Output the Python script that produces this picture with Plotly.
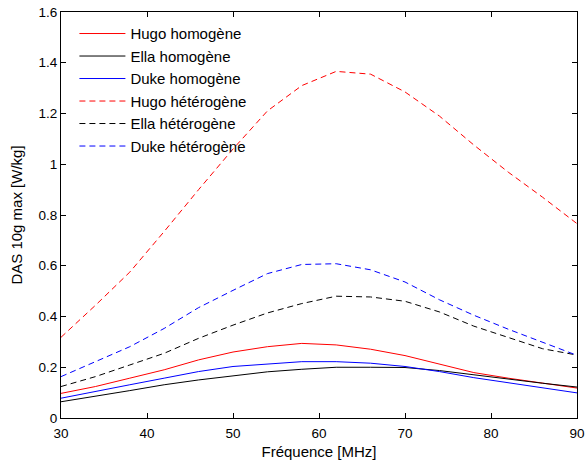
import plotly.graph_objects as go

freq = [30, 34, 38, 42, 46, 50, 54, 58, 62, 66, 70, 74, 78, 82, 86, 90]

hugo_hom = [0.097, 0.124, 0.157, 0.190, 0.229, 0.260, 0.281, 0.294, 0.288, 0.271, 0.246, 0.212, 0.179, 0.157, 0.137, 0.118]
ella_hom = [0.064, 0.085, 0.108, 0.131, 0.150, 0.166, 0.182, 0.192, 0.200, 0.200, 0.199, 0.187, 0.170, 0.153, 0.137, 0.122]
duke_hom = [0.078, 0.103, 0.131, 0.157, 0.183, 0.203, 0.213, 0.222, 0.222, 0.216, 0.203, 0.183, 0.159, 0.140, 0.120, 0.099]
hugo_het = [0.318, 0.444, 0.575, 0.735, 0.900, 1.060, 1.210, 1.310, 1.366, 1.355, 1.285, 1.190, 1.076, 0.969, 0.870, 0.766]
ella_het = [0.124, 0.163, 0.209, 0.255, 0.314, 0.366, 0.414, 0.451, 0.480, 0.477, 0.460, 0.418, 0.362, 0.318, 0.273, 0.248]
duke_het = [0.163, 0.222, 0.281, 0.353, 0.435, 0.503, 0.569, 0.605, 0.608, 0.584, 0.536, 0.466, 0.405, 0.350, 0.298, 0.247]

names = ["Hugo homogène", "Ella homogène", "Duke homogène",
         "Hugo hétérogène", "Ella hétérogène", "Duke hétérogène"]
series = [hugo_hom, ella_hom, duke_hom, hugo_het, ella_het, duke_het]
colors = ["#ff0000", "#000000", "#0000ff", "#ff0000", "#000000", "#0000ff"]
dashes = ["solid", "solid", "solid", "6px,4px", "6px,4px", "6px,4px"]

x_ticks = [30, 40, 50, 60, 70, 80, 90]
y_ticks = [0, 0.2, 0.4, 0.6, 0.8, 1, 1.2, 1.4, 1.6]
y_ticklabels = ["0", "0.2", "0.4", "0.6", "0.8", "1", "1.2", "1.4", "1.6"]

fig = go.Figure()
for i, (nm, ys, c, d) in enumerate(zip(names, series, colors, dashes)):
    fig.add_trace(go.Scatter(x=freq, y=ys, mode="lines", name=nm,
                             legendgroup=f"g{i}",
                             line=dict(color=c, width=1, dash=d)))

font = "Liberation Sans, Arial, sans-serif"
fig.update_layout(
    width=586, height=463,
    margin=dict(l=61, r=9, t=12, b=45),
    paper_bgcolor="white", plot_bgcolor="white",
    font=dict(family=font, size=13.5, color="#000000"),
    showlegend=True,
    legend=dict(x=0.026, y=0.987, xanchor="left", yanchor="top",
                bgcolor="rgba(0,0,0,0)", borderwidth=0,
                font=dict(family=font, size=15, color="#000000"),
                tracegroupgap=0, itemwidth=46),
    xaxis=dict(range=[30, 90], tickmode="array", tickvals=x_ticks,
               ticks="inside", ticklen=5, tickcolor="#000000",
               showline=True, linecolor="#000000", linewidth=1, mirror="ticks",
               showgrid=False, zeroline=False, ticklabelstandoff=3,
               automargin=False,
               tickfont=dict(family=font, size=13.5),
               title=dict(text="Fréquence [MHz]", standoff=6,
                          font=dict(family=font, size=15))),
    yaxis=dict(range=[0, 1.6], tickmode="array", tickvals=y_ticks,
               ticktext=y_ticklabels,
               ticks="inside", ticklen=5, tickcolor="#000000",
               showline=True, linecolor="#000000", linewidth=1, mirror="ticks",
               showgrid=False, zeroline=False, automargin=False,
               tickfont=dict(family=font, size=13.5),
               title=dict(text="DAS 10g max [W/kg]", standoff=12,
                          font=dict(family=font, size=15))),
)

fig.write_html("out.html", config={"displayModeBar": False},
               post_script="document.body.style.margin='0';document.body.style.padding='0';")
